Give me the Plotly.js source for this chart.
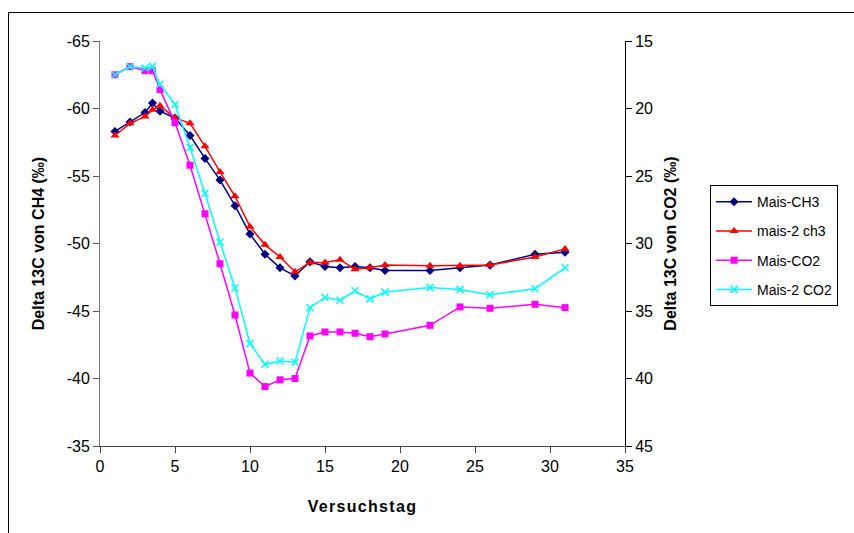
<!DOCTYPE html>
<html>
<head>
<meta charset="utf-8">
<script src="https://cdn.plot.ly/plotly-3.0.1.min.js"></script>
<style>
  html, body { margin: 0; padding: 0; background: #fff; }
  #wrap { position: relative; width: 854px; height: 533px; overflow: hidden; }
  #chart { width: 854px; height: 533px; }
  #frame { position: absolute; left: 8px; top: 12px; width: 900px; height: 600px;
           border-left: 1.5px solid #000; border-top: 1.5px solid #000; pointer-events: none; }
  .xtitle { letter-spacing: 1.3px; }
</style>
</head>
<body>
<div id="wrap">
  <div id="chart"></div>
  <div id="frame"></div>
</div>
<script>
// Versuchstag (days)
const days = [1, 2, 3, 3.5, 4, 5, 6, 7, 8, 9, 10, 11, 12, 13, 14, 15, 16, 17, 18, 19, 22, 24, 26, 29, 31];

// Delta 13C von CH4 (left axis)
const maisCH3  = [-58.3, -59.0, -59.7, -60.4, -59.8, -59.3, -58.0, -56.3, -54.7, -52.8, -50.7, -49.2, -48.2, -47.6, -48.65, -48.3, -48.2, -48.3, -48.2, -48.0, -48.0, -48.2, -48.4, -49.2, -49.35];
const mais2ch3 = [-58.0, -58.9, -59.4, -59.9, -60.2, -59.3, -58.9, -57.2, -55.3, -53.5, -51.25, -49.9, -49.0, -47.9, -48.6, -48.6, -48.8, -48.1, -48.2, -48.4, -48.35, -48.35, -48.4, -49.0, -49.6];

// Delta 13C von CO2 (right axis)
const maisCO2  = [17.5, 16.9, 17.2, 17.2, 18.6, 21.05, 24.2, 27.8, 31.5, 35.3, 39.6, 40.6, 40.1, 40.0, 36.85, 36.55, 36.55, 36.65, 36.9, 36.7, 36.06, 34.7, 34.8, 34.5, 34.75];
const mais2CO2 = [17.5, 16.9, 17.0, 16.9, 18.2, 19.7, 22.9, 26.3, 29.9, 33.3, 37.4, 38.95, 38.7, 38.8, 34.75, 34.0, 34.2, 33.5, 34.1, 33.6, 33.25, 33.4, 33.8, 33.35, 31.8];

const seriesNames = ["Mais-CH3", "mais-2 ch3", "Mais-CO2", "Mais-2 CO2"];
const xTicks = [0, 5, 10, 15, 20, 25, 30, 35];
const yLeftTicks = [-65, -60, -55, -50, -45, -40, -35];
const yRightTicks = [15, 20, 25, 30, 35, 40, 45];

const traces = [
  { x: days, y: maisCH3, name: seriesNames[0], legendgroup: "a", type: "scatter", mode: "lines+markers",
    line: { color: "#000080", width: 1.5 }, marker: { symbol: "diamond", size: 7, color: "#000080" } },
  { x: days, y: mais2ch3, name: seriesNames[1], legendgroup: "b", type: "scatter", mode: "lines+markers",
    line: { color: "#FF0000", width: 1.5 }, marker: { symbol: "triangle-up", size: 8, color: "#FF0000" } },
  { x: days, y: maisCO2, name: seriesNames[2], legendgroup: "c", type: "scatter", mode: "lines+markers", yaxis: "y2",
    line: { color: "#FF00FF", width: 1.5 }, marker: { symbol: "square", size: 7, color: "#FF00FF" } },
  { x: days, y: mais2CO2, name: seriesNames[3], legendgroup: "d", type: "scatter", mode: "lines+markers", yaxis: "y2",
    line: { color: "#00FFFF", width: 1.5 }, marker: { symbol: "x-thin", size: 7, color: "#00FFFF", line: { color: "#00FFFF", width: 1.5 } } }
];

const tickFont = { family: "Arial, 'Liberation Sans', sans-serif", size: 16, color: "#000" };
const titleFont = { family: "Arial, 'Liberation Sans', sans-serif", size: 16, color: "#000", weight: "bold" };

const layout = {
  width: 854, height: 533,
  margin: { l: 100, r: 229, t: 41, b: 87 },
  paper_bgcolor: "#fff", plot_bgcolor: "#fff",
  showlegend: true,
  legend: {
    x: 1.162, y: 0.644, xanchor: "left", yanchor: "top",
    bordercolor: "#000", borderwidth: 1, bgcolor: "#fff",
    font: { family: "Arial, 'Liberation Sans', sans-serif", size: 14, color: "#000" },
    tracegroupgap: 8, itemwidth: 36
  },
  xaxis: {
    range: [0, 35], tickvals: xTicks, ticktext: xTicks.map(String),
    showgrid: false, zeroline: false, showline: true, linecolor: "#444", linewidth: 1,
    ticks: "outside", ticklen: 6, tickcolor: "#444", tickfont: tickFont,
    title: { text: "Versuchstag", font: titleFont, standoff: 26 }
  },
  yaxis: {
    range: [-35, -65], tickvals: yLeftTicks, ticktext: yLeftTicks.map(String),
    showgrid: false, zeroline: false, showline: true, linecolor: "#777", linewidth: 1,
    ticks: "outside", ticklen: 6, tickcolor: "#555", tickfont: tickFont,
    title: { text: "Delta 13C von CH4 (‰)", font: titleFont, standoff: 18 }
  },
  yaxis2: {
    range: [45, 15], tickvals: yRightTicks, ticktext: yRightTicks.map(String),
    overlaying: "y", side: "right", anchor: "x",
    showgrid: false, zeroline: false, showline: true, linecolor: "#000", linewidth: 1,
    ticks: "outside", ticklen: 6, tickcolor: "#000", tickfont: tickFont,
    title: { text: "Delta 13C von CO2 (‰)", font: titleFont, standoff: 12 }
  }
};

Plotly.newPlot("chart", traces, layout, { displayModeBar: false, staticPlot: true });
</script>
</body>
</html>
